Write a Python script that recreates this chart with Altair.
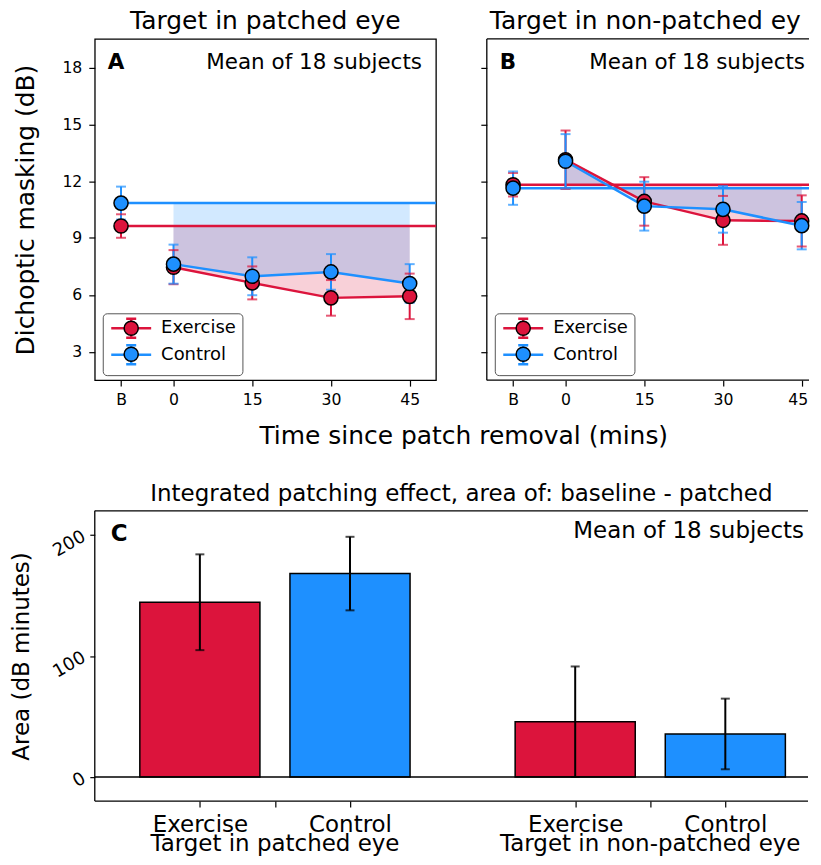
import altair as alt
import pandas as pd

# ---------------- data ----------------
times = [-10, 0, 15, 30, 45]            # -10 is the pre-patch baseline "B"
time_labels = ["B", "0", "15", "30", "45"]
series = ["Exercise", "Control"]
colors = ["#DC143C", "#1E90FF"]

A_ex_mean = [9.63, 7.46, 6.63, 5.84, 5.92]
A_ex_err = [0.62, 0.90, 0.87, 0.94, 1.20]
A_ct_mean = [10.84, 7.62, 6.98, 7.21, 6.60]
A_ct_err = [0.87, 1.03, 1.00, 0.94, 1.02]

B_ex_mean = [11.81, 13.13, 10.93, 9.93, 9.90]
B_ex_err = [0.62, 1.54, 1.28, 1.29, 1.35]
B_ct_mean = [11.63, 13.05, 10.68, 10.51, 9.65]
B_ct_err = [0.88, 1.43, 1.29, 1.23, 1.25]

panel_titles = ["Target in patched eye", "Target in non-patched eye"]
panel_letters = ["A", "B", "C"]
note_text = "Mean of 18 subjects"
x_title = "Time since patch removal (mins)"
y_title = "Dichoptic masking (dB)"
y_ticks = [3, 6, 9, 12, 15, 18]

bar_conditions = ["Exercise", "Control", "Exercise", "Control"]
bar_pos = [0, 1, 2.5, 3.5]
bar_area = [144.4, 168.1, 45.6, 35.5]
bar_err = [39.6, 30.4, 45.7, 29.2]
group_pos = [0.5, 3.0]
group_labels = ["Target in patched eye", "Target in non-patched eye"]
c_title = "Integrated patching effect, area of: baseline - patched"
c_y_title = "Area (dB minutes)"
c_y_ticks = [0, 100, 200]

FONT = "DejaVu Sans"
YDOM = [1.5, 19.5]
H = 342
PX_PER_MIN = 342 / 65.0

# legend glyph: line + error bar, drawn 13.5 px right of the symbol slot
SYM_PATH = ("M-0.92,0L4.74,0M1.91,-1.34L1.91,1.34M1.2,-1.34L2.62,-1.34"
            "M1.2,1.34L2.62,1.34")

x_label_expr = " : ".join(
    f"datum.value == {t} ? '{l}'" for t, l in zip(times, time_labels)
) + " : datum.label"


def one_text(txt):
    return alt.Chart(pd.DataFrame({"t": [txt]}))


def panel(ex_mean, ex_err, ct_mean, ct_err, title, letter, first, W):
    xdom = [-15, -15 + W / PX_PER_MIN]
    rows = []
    for s, m, e in [("Exercise", ex_mean, ex_err), ("Control", ct_mean, ct_err)]:
        for t, mv, ev in zip(times, m, e):
            rows.append({"series": s, "sf": "f_" + s, "sc": "c_" + s,
                         "time": t, "mean": mv,
                         "lo": mv - ev, "hi": mv + ev, "base": m[0]})
    df = pd.DataFrame(rows)
    base = alt.Chart(df)

    xaxis_kw = dict(values=times, labelExpr=x_label_expr, title=None,
                    grid=False, domain=False, tickSize=6, tickWidth=1.2,
                    tickColor="black", labelFontSize=15.7,
                    labelColor="black", labelPadding=6)
    if not first:
        xaxis_kw.update(labelFlush=8, labelFlushOffset=6)
    xenc = alt.X("time:Q", scale=alt.Scale(domain=xdom, nice=False, zero=False),
                 axis=alt.Axis(**xaxis_kw))
    if first:
        yaxis = alt.Axis(values=y_ticks, title=y_title, grid=False, domain=False,
                         tickSize=6, tickWidth=1.2, tickColor="black",
                         labelFontSize=15.7, labelColor="black", labelPadding=7,
                         titleFontSize=25, titleFontWeight="normal",
                         titleColor="black", titleX=-61, titleY=H / 2,
                         titleAngle=270, titleBaseline="alphabetic",
                         titleAlign="center")
    else:
        yaxis = alt.Axis(values=y_ticks, title=None, labels=False, grid=False,
                         domain=False, tickSize=6, tickWidth=1.2, tickColor="black")
    yenc = alt.Y("mean:Q", scale=alt.Scale(domain=YDOM, nice=False, zero=False),
                 axis=yaxis)

    sc = alt.Scale(domain=series, range=colors)
    scf = alt.Scale(domain=["f_" + s for s in series], range=colors)
    scc = alt.Scale(domain=["c_" + s for s in series], range=colors)

    layers = []
    for s, c in zip(series, colors):
        layers.append(
            base.transform_filter(f"datum.series == '{s}' && datum.time >= 0")
            .mark_area(color=c, opacity=0.2)
            .encode(x=xenc, y=yenc, y2="base:Q")
        )
    # baseline lines
    layers.append(
        base.transform_filter(f"datum.time == {times[0]}")
        .mark_rule(strokeWidth=2.5)
        .encode(x=xenc, x2=alt.datum(xdom[1]), y=yenc,
                color=alt.Color("sc:N", scale=scc, legend=None))
    )
    common = dict(orient="none", legendX=8, legendY=275, title=None,
                  direction="vertical", symbolSize=200, labelFontSize=18,
                  padding=6)
    leg1 = alt.Legend(symbolType=SYM_PATH, symbolStrokeWidth=2.5,
                      symbolFillColor="transparent", labelColor="black",
                      symbolOffset=0, labelOffset=34.5,
                      fillColor="white", strokeColor="#555555", cornerRadius=4,
                      rowPadding=-3.5, zindex=1, **common)
    leg2 = alt.Legend(symbolType="circle", symbolStrokeColor="black",
                      symbolStrokeWidth=1.5, rowPadding=4,
                      symbolOffset=13.5, labelOffset=21,
                      labelExpr="replace(datum.label, 'f_', '')",
                      labelOpacity=0, zindex=2, **common)
    layers.append(
        base.transform_filter("datum.time >= 0")
        .mark_line(strokeWidth=2.5)
        .encode(x=xenc, y=yenc,
                stroke=alt.Stroke("series:N", scale=sc, legend=leg1))
    )
    layers.append(
        base.mark_rule(strokeWidth=2)
        .encode(x=xenc, y="lo:Q", y2="hi:Q",
                color=alt.Color("sc:N", scale=scc, legend=None))
    )
    for f in ["lo", "hi"]:
        layers.append(
            base.mark_tick(orient="horizontal", size=10, thickness=2)
            .encode(x=xenc, y=alt.Y(f"{f}:Q"),
                    color=alt.Color("sc:N", scale=scc, legend=None))
        )
    layers.append(
        base.mark_point(filled=True, size=200, stroke="black", strokeWidth=1.5,
                        opacity=1)
        .encode(x=xenc, y=yenc,
                fill=alt.Fill("sf:N", scale=scf, legend=leg2))
    )
    layers.append(
        one_text(letter).mark_text(fontSize=21.5, fontWeight="bold", align="left",
                                   baseline="alphabetic", color="black")
        .encode(text="t:N", x=alt.value(13), y=alt.value(30))
    )
    layers.append(
        one_text(note_text).mark_text(fontSize=21.5, align="right",
                                      baseline="alphabetic", color="black")
        .encode(text="t:N", x=alt.value(min(328, W - 4)), y=alt.value(30))
    )
    # panel title (text mark, truncated at the page edge like the reference)
    if first:
        layers.append(
            one_text(title).mark_text(fontSize=25, align="center",
                                      baseline="alphabetic", color="black")
            .encode(text="t:N", x=alt.value(171), y=alt.value(-10))
        )
    else:
        layers.append(
            one_text(title).mark_text(fontSize=25, align="left",
                                      baseline="alphabetic", color="black",
                                      limit=W - 2, ellipsis=" ")
            .encode(text="t:N", x=alt.value(3), y=alt.value(-10))
        )
        frame = one_text("f")
        layers += [
            frame.mark_rule(color="black", strokeWidth=1.3).encode(y=alt.value(0)),
            frame.mark_rule(color="black", strokeWidth=1.3).encode(y=alt.value(H)),
            frame.mark_rule(color="black", strokeWidth=1.3).encode(x=alt.value(0)),
        ]
    ch = alt.layer(*layers).properties(width=W, height=H)
    if not first:
        ch = ch.properties(view=alt.ViewBackground(stroke="transparent"))
    return ch


pA = panel(A_ex_mean, A_ex_err, A_ct_mean, A_ct_err, panel_titles[0],
           panel_letters[0], True, 342)
pB = panel(B_ex_mean, B_ex_err, B_ct_mean, B_ct_err, panel_titles[1],
           panel_letters[1], False, 323)

top = alt.hconcat(
    pA, pB, spacing=41,
    title=alt.TitleParams(x_title, orient="bottom", anchor="middle", dx=51,
                          fontSize=25, fontWeight="normal", offset=17,
                          color="black"),
).resolve_scale(x="independent", y="independent", stroke="independent",
                fill="independent", color="independent").resolve_legend(
    stroke="independent", fill="independent", color="independent")

# ---------------- panel C ----------------
cdf = pd.DataFrame({"cond": bar_conditions, "pos": bar_pos, "area": bar_area,
                    "err": bar_err})
cdf["x0"] = cdf["pos"] - 0.4
cdf["x1"] = cdf["pos"] + 0.4
cdf["lo"] = cdf["area"] - cdf["err"]
cdf["hi"] = cdf["area"] + cdf["err"]
gdf = pd.DataFrame({"pos": group_pos, "label": group_labels})

c_ticks = sorted(bar_pos + group_pos)
parts = [f"datum.value == {p} ? '{l}'" for p, l in zip(bar_pos, bar_conditions)]
c_label_expr = " : ".join(parts) + " : ''"

CW, CH = 715, 291
C_PX = 150.5
cx = alt.Scale(domain=[-0.7, -0.7 + CW / C_PX], nice=False, zero=False)
cy = alt.Scale(domain=[-20, 220], nice=False, zero=False)
cxaxis = alt.Axis(values=c_ticks, labelExpr=c_label_expr, title=None, grid=False,
                  domain=False, tickSize=6, tickWidth=1.2, tickColor="black",
                  labelFontSize=23, labelColor="black",
                  labelBaseline="top", labelPadding=6, labelOverlap=False,
                  labelAngle=0, labelLimit=600)
cyaxis = alt.Axis(values=c_y_ticks, title=c_y_title, grid=False, domain=False,
                  tickSize=5, tickWidth=1.2, tickColor="black",
                  labelFontSize=18, labelColor="black", labelAngle=330,
                  labelAlign="right", labelBaseline="middle", labelPadding=6,
                  titleFontSize=23, titleFontWeight="normal", titleColor="black",
                  titleX=-66, titleY=CH / 2, titleAngle=270,
                  titleBaseline="alphabetic", titleAlign="center")
cbase = alt.Chart(cdf)
bars = cbase.mark_rect(stroke="black", strokeWidth=1.5).encode(
    x=alt.X("x0:Q", scale=cx, axis=cxaxis), x2="x1:Q",
    y=alt.Y("area:Q", scale=cy, axis=cyaxis), y2=alt.datum(0),
    fill=alt.Fill("cond:N", scale=alt.Scale(domain=series, range=colors),
                  legend=None),
)
zero = alt.Chart(pd.DataFrame({"z": [0]})).mark_rule(
    color="black", strokeWidth=1.5).encode(y=alt.Y("z:Q", scale=cy))
ebar = cbase.mark_rule(color="black", strokeWidth=2).encode(
    x=alt.X("pos:Q", scale=cx), y=alt.Y("lo:Q", scale=cy), y2="hi:Q")
caps = [cbase.mark_tick(orient="horizontal", size=9, thickness=2, color="black")
        .encode(x=alt.X("pos:Q", scale=cx), y=alt.Y(f"{f}:Q", scale=cy))
        for f in ["lo", "hi"]]
glabels = alt.Chart(gdf).mark_text(
    fontSize=23, align="center", baseline="alphabetic", color="black").encode(
    x=alt.X("pos:Q", scale=cx), y=alt.value(CH + 50), text="label:N")
ctext1 = one_text(panel_letters[2]).mark_text(
    fontSize=23, fontWeight="bold", align="left", baseline="alphabetic",
    color="black").encode(text="t:N", x=alt.value(16), y=alt.value(30))
ctext2 = one_text(note_text).mark_text(
    fontSize=23, align="right", baseline="alphabetic", color="black").encode(
    text="t:N", x=alt.value(CW - 4), y=alt.value(27))
ctitle = one_text(c_title).mark_text(
    fontSize=23, align="center", baseline="alphabetic", color="black").encode(
    text="t:N", x=alt.value(367.5), y=alt.value(-10))
cframe = one_text("f")
cframes = [
    cframe.mark_rule(color="black", strokeWidth=1.3).encode(y=alt.value(0)),
    cframe.mark_rule(color="black", strokeWidth=1.3).encode(y=alt.value(CH)),
    cframe.mark_rule(color="black", strokeWidth=1.3).encode(x=alt.value(0)),
]

pC = alt.layer(bars, zero, ebar, *caps, glabels, ctext1, ctext2, ctitle, *cframes
               ).properties(width=CW, height=CH,
                            view=alt.ViewBackground(stroke="transparent"))

chart = alt.vconcat(top, alt.hconcat(pC), spacing=32).resolve_scale(
    x="independent", y="independent", stroke="independent",
    fill="independent", color="independent").resolve_legend(
    stroke="independent", fill="independent", color="independent"
).properties(padding={"left": 2, "top": -1, "right": 0, "bottom": -2}
).configure(font=FONT).configure_view(stroke="black", strokeWidth=1.3)

chart.save("out.html", embed_options={"renderer": "svg", "actions": False})
